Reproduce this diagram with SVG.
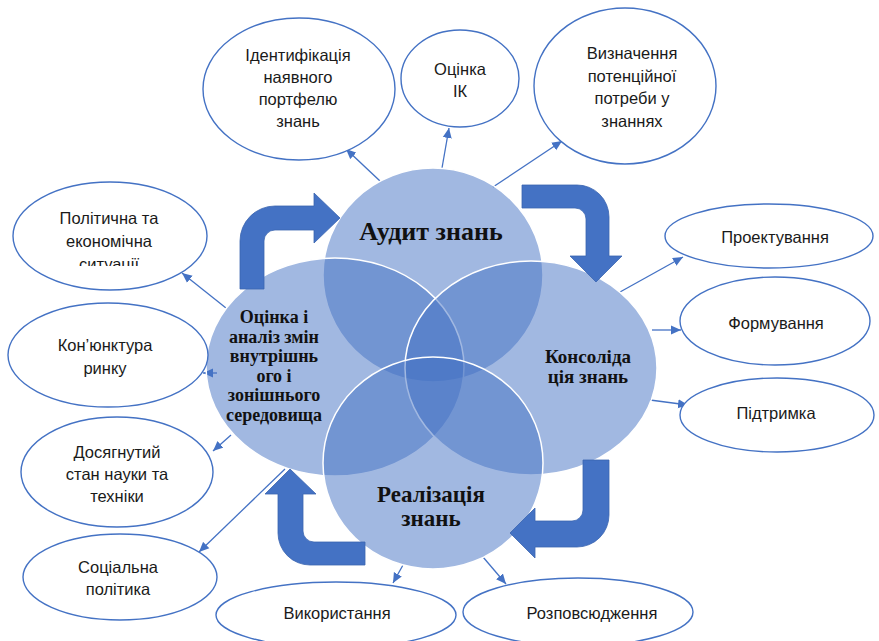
<svg xmlns="http://www.w3.org/2000/svg" width="879" height="641" viewBox="0 0 879 641">
<defs>
<style>
.n{fill:#fff;stroke:#4472C4;stroke-width:1.4}
.t{font-family:"Liberation Sans",Arial,sans-serif;font-size:16.5px;fill:#1a1a1a;text-anchor:middle}
.b{font-family:"Liberation Serif","Times New Roman",serif;font-weight:bold;fill:#111;text-anchor:middle}
.c{fill:#4472C4;fill-opacity:0.5;stroke:#fff;stroke-width:1.5}
.k{stroke:#4472C4;stroke-width:1.3;fill:none;marker-end:url(#ah)}
.ba{fill:#4472C4;stroke:#3A65B0;stroke-width:0.8}
</style>
<marker id="ah" markerUnits="userSpaceOnUse" markerWidth="10" markerHeight="10" viewBox="0 0 10 10" refX="10" refY="5" orient="auto">
<path d="M0,0.5 L10,5 L0,9.5 Z" fill="#4472C4"/>
</marker>
<clipPath id="clipSit"><rect x="0" y="0" width="879" height="266"/></clipPath>
</defs>
<rect width="879" height="641" fill="#fff"/>

<g id="connectors">
<line class="k" x1="380" y1="181" x2="346" y2="149"/>
<line class="k" x1="442" y1="168" x2="449" y2="128"/>
<line class="k" x1="493" y1="187" x2="562" y2="141"/>
<line class="k" x1="226" y1="308" x2="182" y2="273"/>
<line class="k" x1="217" y1="373" x2="203" y2="373"/>
<line class="k" x1="231" y1="435" x2="213" y2="451"/>
<line class="k" x1="285" y1="469" x2="199" y2="552"/>
<line class="k" x1="620" y1="292" x2="683" y2="257"/>
<line class="k" x1="652" y1="330" x2="681" y2="330"/>
<line class="k" x1="650" y1="400" x2="688" y2="405"/>
<line class="k" x1="403" y1="565" x2="393" y2="583"/>
<line class="k" x1="483" y1="557" x2="506" y2="584"/>
</g>

<g id="venn">
<g id="audit"><ellipse class="c" cx="433" cy="275" rx="110" ry="107"/></g>
<g id="ocinka"><ellipse class="c" cx="335" cy="367" rx="129" ry="109"/></g>
<g id="konsol"><ellipse class="c" cx="531" cy="368" rx="126" ry="107"/></g>
<g id="realiz"><ellipse class="c" cx="433" cy="463" rx="110" ry="106"/></g>
<text class="b" font-size="26" x="431" y="240">Аудит знань</text>
<text class="b" font-size="18" x="274"><tspan x="274" y="323">Оцінка і</tspan><tspan x="274" y="342.5">аналіз змін</tspan><tspan x="274" y="362">внутрішнь</tspan><tspan x="274" y="381.5">ого і</tspan><tspan x="274" y="401">зонішнього</tspan><tspan x="274" y="420.5">середовища</tspan></text>
<text class="b" font-size="19" x="588"><tspan x="588" y="363">Консоліда</tspan><tspan x="588" y="383">ція знань</tspan></text>
<text class="b" font-size="23" x="431"><tspan x="431" y="502">Реалізація</tspan><tspan x="431" y="526">знань</tspan></text>
</g>

<g id="block-arrows">
<path class="ba" d="M240 289 L240 241 A35 35 0 0 1 275 206 L314 206 L314 193 L340 218 L314 243 L314 230 L275 230 A11 11 0 0 0 264 241 L264 289 Z"/>
<path class="ba" d="M522 185 L577 185 A32 32 0 0 1 609 217 L609 256 L622 256 L596 282 L570 256 L586 256 L586 219 A11 11 0 0 0 575 208 L522 208 Z"/>
<path class="ba" d="M583 460 L609 460 L609 515 A32 32 0 0 1 577 547 L535 547 L535 558 L510 533 L535 508 L535 521 L572 521 A11 11 0 0 0 583 510 Z"/>
<path class="ba" d="M365 565 L310 565 A32 32 0 0 1 278 533 L278 494 L265 494 L290 469 L316 494 L303 494 L303 531 A11 11 0 0 0 314 542 L365 542 Z"/>
</g>

<g id="n-ident"><ellipse class="n" cx="299" cy="89" rx="96" ry="71"/>
<text class="t"><tspan x="298" y="61">Ідентифікація</tspan><tspan x="298" y="83">наявного</tspan><tspan x="298" y="105">портфелю</tspan><tspan x="298" y="127">знань</tspan></text></g>
<g id="n-ik"><ellipse class="n" cx="460" cy="78.5" rx="59" ry="48.5"/>
<text class="t"><tspan x="460" y="75">Оцінка</tspan><tspan x="460" y="97">ІК</tspan></text></g>
<g id="n-vyzn"><ellipse class="n" cx="625" cy="86" rx="91" ry="78"/>
<text class="t"><tspan x="632" y="59">Визначення</tspan><tspan x="632" y="82">потенційної</tspan><tspan x="632" y="104">потреби у</tspan><tspan x="632" y="127">знаннях</tspan></text></g>
<g id="n-polit"><ellipse class="n" cx="110" cy="236" rx="97" ry="54"/>
<text class="t"><tspan x="109" y="224">Політична та</tspan><tspan x="109" y="247">економічна</tspan></text>
<text class="t" clip-path="url(#clipSit)" x="109" y="270">ситуації</text></g>
<g id="n-kon"><ellipse class="n" cx="108" cy="355" rx="100" ry="52"/>
<text class="t"><tspan x="105" y="351">Кон’юнктура</tspan><tspan x="105" y="374">ринку</tspan></text></g>
<g id="n-dos"><ellipse class="n" cx="117" cy="472" rx="96" ry="55"/>
<text class="t"><tspan x="117" y="458">Досягнутий</tspan><tspan x="117" y="480">стан науки та</tspan><tspan x="117" y="502">техніки</tspan></text></g>
<g id="n-soc"><ellipse class="n" cx="120" cy="577" rx="97" ry="43"/>
<text class="t"><tspan x="118" y="573">Соціальна</tspan><tspan x="118" y="595">політика</tspan></text></g>
<g id="n-proekt"><ellipse class="n" cx="769" cy="236" rx="104" ry="32"/>
<text class="t" x="775" y="243">Проектування</text></g>
<g id="n-form"><ellipse class="n" cx="775" cy="321" rx="95" ry="44"/>
<text class="t" x="776" y="329">Формування</text></g>
<g id="n-pidt"><ellipse class="n" cx="777" cy="415" rx="97" ry="37"/>
<text class="t" x="776" y="419">Підтримка</text></g>
<g id="n-vykor"><ellipse class="n" cx="336" cy="615" rx="120" ry="33"/>
<text class="t" x="337" y="619">Використання</text></g>
<g id="n-rozp"><ellipse class="n" cx="578" cy="612" rx="115" ry="34"/>
<text class="t" x="592" y="619">Розповсюдження</text></g>
</svg>
